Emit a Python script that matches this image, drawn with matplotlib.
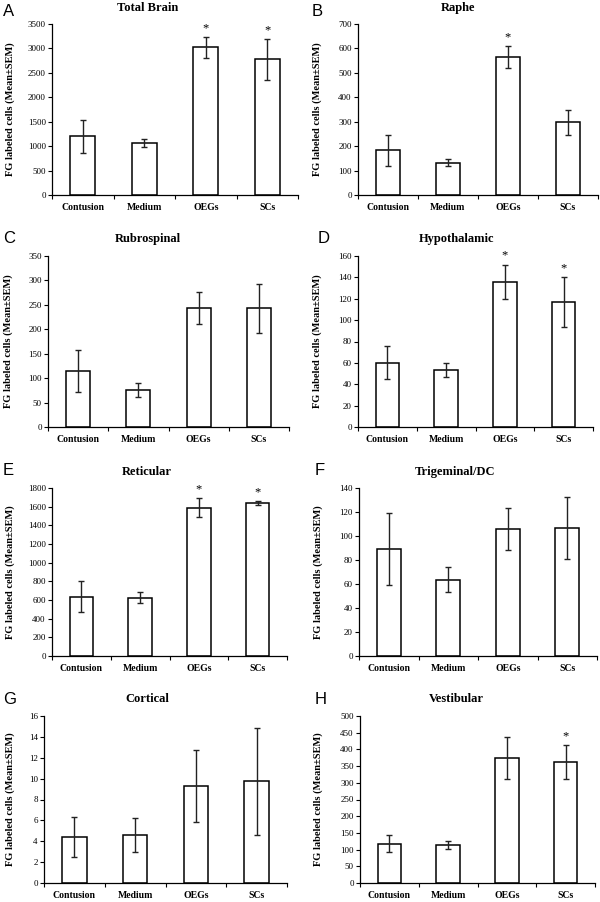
import matplotlib
matplotlib.use("Agg")
import matplotlib.pyplot as plt
import numpy as np

categories = ["Contusion", "Medium", "OEGs", "SCs"]

titles = ["Total Brain", "Raphe", "Rubrospinal", "Hypothalamic",
          "Reticular", "Trigeminal/DC", "Cortical", "Vestibular"]
letters = ["A", "B", "C", "D", "E", "F", "G", "H"]

total_brain_mean = [1203, 1059, 3021, 2775]
total_brain_sem = [335, 85, 212, 415]
raphe_mean = [183, 133, 563, 297]
raphe_sem = [63, 16, 45, 51]
rubrospinal_mean = [115, 76, 243, 243]
rubrospinal_sem = [43, 15, 33, 50]
hypothalamic_mean = [60, 53, 136, 117]
hypothalamic_sem = [15.5, 6.5, 16, 23]
reticular_mean = [637, 626, 1589, 1636]
reticular_sem = [165, 62, 102, 23]
trigeminal_mean = [88.8, 63.7, 106, 106.6]
trigeminal_sem = [30, 10.5, 17.5, 25.5]
cortical_mean = [4.42, 4.58, 9.26, 9.73]
cortical_sem = [1.9, 1.65, 3.45, 5.15]
vestibular_mean = [118, 114, 374, 361]
vestibular_sem = [26, 11, 63, 51]

means = [total_brain_mean, raphe_mean, rubrospinal_mean, hypothalamic_mean,
         reticular_mean, trigeminal_mean, cortical_mean, vestibular_mean]
sems = [total_brain_sem, raphe_sem, rubrospinal_sem, hypothalamic_sem,
        reticular_sem, trigeminal_sem, cortical_sem, vestibular_sem]
stars = [[2, 3], [2], [], [2, 3], [2, 3], [], [], [3]]
ymax = [3500, 700, 350, 160, 1800, 140, 16, 500]
ystep = [500, 100, 50, 20, 200, 20, 2, 50]

W, H = 600, 902
# axes boxes in pixels: left, right, top, bottom
boxes = [(52, 298, 24, 195), (358, 598, 24, 195),
         (48, 289, 256, 427), (358, 593, 256, 427),
         (52, 287, 488, 656), (359, 597, 488, 656),
         (44, 287, 716, 883), (360, 595, 716, 883)]
title_pos = [(148, 8), (458, 8), (148, 239), (457, 239),
             (147, 472), (455, 472), (147, 699), (456, 699)]
letter_pos = [(3, 12), (312, 12), (3, 239), (318, 239),
              (3, 470), (315, 470), (3, 699), (315, 699)]
ylabel_x = [15, 322, 13, 322, 15, 323, 15, 323]

serif = ["Liberation Serif", "DejaVu Serif"]
sans = ["Liberation Sans", "DejaVu Sans"]

fig = plt.figure(figsize=(W / 100, H / 100), dpi=100)

for i in range(8):
    l, r, t, b = boxes[i]
    ax = fig.add_axes([l / W, 1 - b / H, (r - l) / W, (b - t) / H])
    x = list(range(4))
    ax.bar(x, means[i], width=0.4, color="white", edgecolor="black",
           linewidth=1.1, zorder=2)
    ax.errorbar(x, means[i], yerr=sems[i], fmt="none", ecolor="#222222",
                elinewidth=1.0, capsize=2.5, capthick=1.0, zorder=3)
    ax.set_xlim(-0.5, 3.5)
    ax.set_ylim(0, ymax[i])
    yt = np.arange(0, ymax[i] + ystep[i] * 0.5, ystep[i])
    ax.set_yticks(yt)
    ax.set_yticklabels([f"{int(v)}" for v in yt], fontfamily=serif, fontsize=6.5)
    ax.set_xticks([-0.5, 0.5, 1.5, 2.5, 3.5])
    ax.set_xticklabels([])
    ax.set_xticks(x, minor=True)
    ax.set_xticklabels(categories, minor=True, fontfamily=serif,
                       fontweight="bold", fontsize=7)
    ax.tick_params(axis="x", which="major", direction="out", length=3, width=0.8)
    ax.tick_params(axis="x", which="minor", length=0, pad=6)
    ax.tick_params(axis="y", direction="out", length=3, width=0.8, pad=1.5)
    for s in ["top", "right"]:
        ax.spines[s].set_visible(False)
    for s in ["left", "bottom"]:
        ax.spines[s].set_linewidth(0.9)
    for k in stars[i]:
        ax.annotate("*", (k, means[i][k] + sems[i][k]), xytext=(0, 2),
                    textcoords="offset points", ha="center", va="bottom",
                    fontfamily=serif, fontsize=9)
    ax.set_ylabel("FG labeled cells (Mean\u00b1SEM)", fontfamily=serif,
                  fontweight="bold", fontsize=7.5)
    ax.yaxis.set_label_coords((ylabel_x[i] - l) / (r - l), 0.5)
    tx, ty = title_pos[i]
    fig.text(tx / W, 1 - ty / H, titles[i], ha="center", va="center",
             fontfamily=serif, fontweight="bold", fontsize=9)
    lx, ly = letter_pos[i]
    fig.text(lx / W, 1 - ly / H, letters[i], ha="left", va="center",
             fontfamily=sans, fontsize=12)

fig.savefig("out.png", dpi=100)
